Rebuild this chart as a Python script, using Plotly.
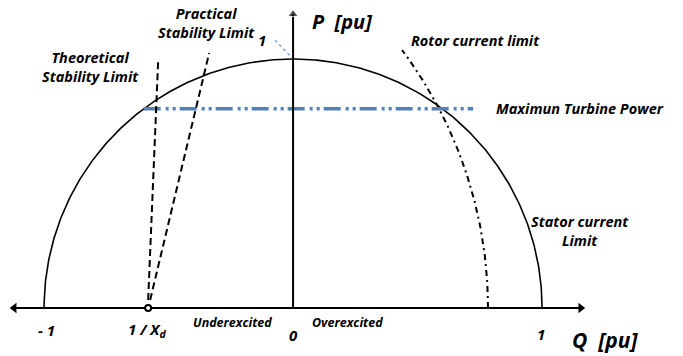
import numpy as np
import plotly.graph_objects as go

# Capability-chart parameters (per unit)
stator_radius = 1.0
inv_xd = -0.582                     # 1/Xd point on the Q axis
rotor_center = -0.944               # rotor current limit circle centre (Q)
rotor_radius = 1.727
rotor_top_p = 1.036                 # highest P drawn on the rotor limit arc
turbine_p = 0.80                    # maximum turbine power
turbine_q_end = 0.723

theoretical_q = [-0.582, -0.542]
theoretical_p = [0.032, 0.988]
practical_q = [-0.574, -0.337]
practical_p = [0.032, 1.024]

one_marker_q = [-0.072, -0.004]
one_marker_p = [1.076, 1.004]

q_axis_min, q_axis_max = -1.12, 1.155
p_axis_max = 1.18

x_range = [-1.177, 1.566]
y_range = [-0.193, 1.237]

FONT = "Open Sans"

fig = go.Figure()

# Stator current limit: half circle of radius 1
theta = np.linspace(0, np.pi, 361)
fig.add_trace(go.Scatter(
    x=stator_radius * np.cos(theta), y=stator_radius * np.sin(theta),
    mode="lines", line=dict(color="black", width=1.6), hoverinfo="skip"))

# Rotor current limit arc
p_rot = np.linspace(0, rotor_top_p, 200)
q_rot = rotor_center + np.sqrt(rotor_radius**2 - p_rot**2)
fig.add_trace(go.Scatter(
    x=q_rot, y=p_rot, mode="lines",
    line=dict(color="black", width=2, dash="6px,4px,2px,4px"), hoverinfo="skip"))

# Maximum turbine power
q_turb_start = -np.sqrt(stator_radius**2 - turbine_p**2)
fig.add_trace(go.Scatter(
    x=[q_turb_start, turbine_q_end], y=[turbine_p, turbine_p], mode="lines",
    line=dict(color="#4f81bd", width=3.5, dash="17px,5px,3px,4px,3px,4px"),
    hoverinfo="skip"))

# Stability limits
fig.add_trace(go.Scatter(
    x=theoretical_q, y=theoretical_p, mode="lines",
    line=dict(color="black", width=2, dash="7px,4px"), hoverinfo="skip"))
fig.add_trace(go.Scatter(
    x=practical_q, y=practical_p, mode="lines",
    line=dict(color="black", width=2, dash="7px,4px"), hoverinfo="skip"))

# Leader for the "1" on the P axis
fig.add_trace(go.Scatter(
    x=one_marker_q, y=one_marker_p, mode="lines",
    line=dict(color="#6f9bd1", width=1.3, dash="dot"), hoverinfo="skip"))

# Q axis (both directions) and P axis, with arrowheads
fig.add_trace(go.Scatter(
    x=[q_axis_min, q_axis_max], y=[0, 0], mode="lines+markers",
    line=dict(color="black", width=2),
    marker=dict(symbol=["triangle-left", "triangle-right"], size=9, color="black"),
    hoverinfo="skip"))
fig.add_trace(go.Scatter(
    x=[0, 0], y=[0, p_axis_max], mode="lines+markers",
    line=dict(color="black", width=2),
    marker=dict(symbol=["circle", "triangle-up"], size=[0, 9], color="black"),
    hoverinfo="skip"))

# 1/Xd point
fig.add_trace(go.Scatter(
    x=[inv_xd], y=[0], mode="markers",
    marker=dict(symbol="circle", size=6, color="white",
                line=dict(color="black", width=2)), hoverinfo="skip"))


def label(text, q, p, size=14.5):
    fig.add_annotation(
        x=q, y=p, text=text, showarrow=False, xanchor="center", yanchor="middle",
        font=dict(family=FONT, size=size, color="black", weight="bold", style="italic"))


label("P  [pu]", 0.195, 1.15, size=20)
label("1", -0.125, 1.076, size=15)
label("Practical<br>Stability Limit", -0.347, 1.143)
label("Theoretical<br>Stability Limit", -0.815, 0.966)
label("Rotor current limit", 0.731, 1.076)
label("Maximun Turbine Power", 1.153, 0.80)
label("Stator current<br>Limit", 1.151, 0.311)
label("- 1", -0.992, -0.088, size=15)
label("1 / X<sub>d</sub>", -0.586, -0.088, size=15)
label("Underexcited", -0.245, -0.06, size=12.5)
label("0", 0.0, -0.108, size=15)
label("Overexcited", 0.217, -0.06, size=12.5)
label("1", 0.996, -0.104, size=15)
label("Q  [pu]", 1.253, -0.128, size=21)

fig.update_layout(
    width=683, height=356, margin=dict(l=0, r=0, t=0, b=0),
    paper_bgcolor="white", plot_bgcolor="white", showlegend=False,
    xaxis=dict(range=x_range, visible=False, fixedrange=True),
    yaxis=dict(range=y_range, visible=False, fixedrange=True),
)

fig.write_html("out.html")
